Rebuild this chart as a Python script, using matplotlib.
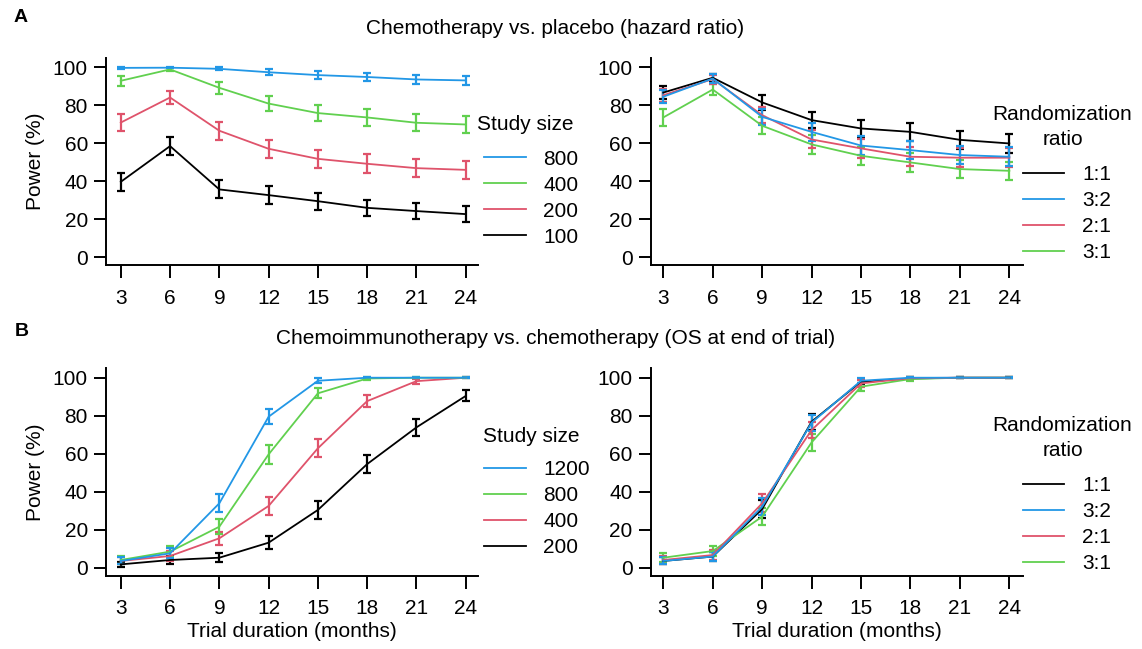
import matplotlib; matplotlib.use("Agg")
import matplotlib.pyplot as plt
from matplotlib.lines import Line2D

plt.rcParams["font.family"] = ["Liberation Sans", "DejaVu Sans"]
plt.rcParams["font.size"] = 15

months = [3, 6, 9, 12, 15, 18, 21, 24]

# R 4 palette
BLACK, RED, GREEN, BLUE = "black", "#DF536B", "#61D04F", "#2297E6"

# (A) chemotherapy vs placebo, hazard ratio — by study size
a_size_labels = ["800", "400", "200", "100"]
a_size_power = [
    [99.8, 99.9, 99.3, 97.5, 96.0, 95.0, 93.7, 93.2],
    [93.0, 99.0, 89.3, 81.0, 76.0, 73.7, 70.9, 70.0],
    [71.0, 84.2, 66.7, 57.2, 51.9, 49.3, 47.0, 46.1],
    [39.8, 58.6, 35.8, 32.8, 29.6, 26.1, 24.4, 22.8],
]
a_size_err = [
    [0.44, 0.3, 0.82, 1.53, 1.92, 2.14, 2.38, 2.47],
    [2.50, 0.97, 3.03, 3.84, 4.19, 4.31, 4.45, 4.49],
    [4.45, 3.58, 4.62, 4.85, 4.90, 4.90, 4.89, 4.88],
    [4.80, 4.83, 4.70, 4.60, 4.47, 4.30, 4.21, 4.11],
]
# (A) by randomization ratio
ratio_labels = ["1:1", "3:2", "2:1", "3:1"]
a_ratio_power = [
    [86.8, 94.6, 81.6, 72.3, 67.9, 66.1, 61.9, 60.0],
    [84.6, 94.2, 74.0, 66.1, 58.9, 56.5, 53.9, 53.0],
    [85.4, 93.9, 74.9, 62.1, 57.4, 53.0, 52.5, 52.5],
    [73.7, 88.4, 69.3, 59.5, 53.5, 50.0, 46.5, 45.6],
]
a_ratio_err = [
    [3.32, 2.21, 3.80, 4.39, 4.58, 4.64, 4.76, 4.80],
    [3.54, 2.29, 4.30, 4.64, 4.82, 4.86, 4.89, 4.89],
    [3.46, 2.35, 4.25, 4.75, 4.85, 4.89, 4.90, 4.90],
    [4.31, 3.14, 4.52, 4.81, 4.89, 4.90, 4.89, 4.88],
]

# (B) chemoimmunotherapy vs chemotherapy, OS at end of trial — by study size
b_size_labels = ["1200", "800", "400", "200"]
b_size_power = [
    [3.7, 7.7, 34.0, 79.5, 98.4, 100.0, 100.0, 100.0],
    [4.2, 8.6, 21.7, 59.7, 91.8, 99.6, 100.0, 100.0],
    [3.7, 6.3, 15.6, 32.6, 62.9, 87.7, 98.2, 100.0],
    [1.9, 4.2, 5.4, 13.3, 30.5, 54.6, 73.9, 90.4],
]
b_size_err = [
    [1.85, 2.61, 4.64, 3.96, 1.23, 0.2, 0.2, 0.2],
    [1.97, 2.75, 4.04, 4.81, 2.69, 0.62, 0.2, 0.2],
    [1.85, 2.38, 3.56, 4.59, 4.73, 3.22, 1.30, 0.2],
    [1.34, 1.97, 2.22, 3.33, 4.51, 4.88, 4.30, 2.89],
]
# (B) by randomization ratio
b_ratio_power = [
    [3.7, 6.0, 31.0, 76.9, 97.9, 99.6, 100.0, 100.0],
    [3.7, 6.0, 32.2, 76.4, 98.4, 100.0, 100.0, 100.0],
    [4.2, 6.8, 34.0, 72.5, 97.0, 99.8, 100.0, 100.0],
    [5.4, 8.9, 27.0, 66.0, 95.3, 99.3, 100.0, 100.0],
]
b_ratio_err = [
    [1.85, 2.33, 4.53, 4.13, 1.41, 0.62, 0.2, 0.2],
    [1.85, 2.33, 4.58, 4.16, 1.23, 0.2, 0.2, 0.2],
    [1.97, 2.47, 4.64, 4.38, 1.67, 0.44, 0.2, 0.2],
    [2.22, 2.79, 4.35, 4.64, 2.07, 0.82, 0.2, 0.2],
]

size_colors = [BLUE, GREEN, RED, BLACK]
ratio_colors = [BLACK, BLUE, RED, GREEN]

W, H = 1142, 649
fig = plt.figure(figsize=(W / 100, H / 100), dpi=100)


def px_axes(left, top, right, bottom):
    return fig.add_axes([left / W, 1 - bottom / H, (right - left) / W, (bottom - top) / H])


def style(ax, xlim):
    ax.set_xlim(*xlim); ax.set_ylim(-4, 105)
    ax.set_xticks(months); ax.set_yticks(range(0, 101, 20))
    for s in ("top", "right"):
        ax.spines[s].set_visible(False)
    for s in ("left", "bottom"):
        ax.spines[s].set_linewidth(1.4)
    ax.tick_params(length=9, width=1.4, labelsize=15)
    ax.tick_params(axis="y", pad=4)
    ax.tick_params(axis="x", pad=8)


def draw(ax, power, err, colors, order):
    for i in order:
        ax.errorbar(months, power[i], yerr=err[i], color=colors[i], lw=1.3,
                    elinewidth=1.6, capsize=2.8, capthick=1.6)


def legend(ax, labels, colors, x, y):
    handles = [Line2D([], [], color=c, lw=1.3) for c in colors]
    ax.legend(handles, labels, loc="upper left", bbox_to_anchor=(x / W, 1 - y / H),
              bbox_transform=fig.transFigure, frameon=False, borderpad=0, borderaxespad=0,
              handlelength=2.0, handletextpad=0.85, labelspacing=0.335, fontsize=15)


axTL = px_axes(106, 58, 478, 265)
axTR = px_axes(650.7, 58, 1022.7, 265)
axBL = px_axes(106, 368.2, 478, 575.6)
axBR = px_axes(650.7, 368.2, 1022.7, 575.6)

for ax in (axTL, axBL):
    style(ax, (2.1, 24.75))
    ax.set_ylabel("Power (%)", labelpad=5.5)
for ax in (axTR, axBR):
    style(ax, (2.235, 24.81))
for ax in (axBL, axBR):
    ax.set_xlabel("Trial duration (months)", labelpad=3)

draw(axTL, a_size_power, a_size_err, size_colors, [3, 2, 1, 0])
draw(axTR, a_ratio_power, a_ratio_err, ratio_colors, [0, 3, 2, 1])
draw(axBL, b_size_power, b_size_err, size_colors, [3, 2, 1, 0])
draw(axBR, b_ratio_power, b_ratio_err, ratio_colors, [0, 3, 2, 1])

legend(axTL, a_size_labels, size_colors, 484, 149.7)
legend(axBL, b_size_labels, size_colors, 484, 460)
legend(axTR, ratio_labels, ratio_colors, 1022.7, 165)
legend(axBR, ratio_labels, ratio_colors, 1022.7, 476)

fig.text(477 / W, 1 - 125 / H, "Study size", ha="left", va="center", fontsize=15)
fig.text(483 / W, 1 - 436 / H, "Study size", ha="left", va="center", fontsize=15)
fig.text(1062.5 / W, 1 - 127 / H, "Randomization\nratio", ha="center", va="center",
         multialignment="center", linespacing=1.4, fontsize=15)
fig.text(1062.5 / W, 1 - 438 / H, "Randomization\nratio", ha="center", va="center",
         multialignment="center", linespacing=1.4, fontsize=15)

fig.text(555.5 / W, 1 - 28 / H, "Chemotherapy vs. placebo (hazard ratio)",
         ha="center", va="center", fontsize=15)
fig.text(555.5 / W, 1 - 338 / H, "Chemoimmunotherapy vs. chemotherapy (OS at end of trial)",
         ha="center", va="center", fontsize=15)
fig.text(14 / W, 1 - 18 / H, "A", ha="left", va="center", fontsize=14, fontweight="bold")
fig.text(15 / W, 1 - 331 / H, "B", ha="left", va="center", fontsize=14, fontweight="bold")

fig.savefig("out.png", dpi=100)
